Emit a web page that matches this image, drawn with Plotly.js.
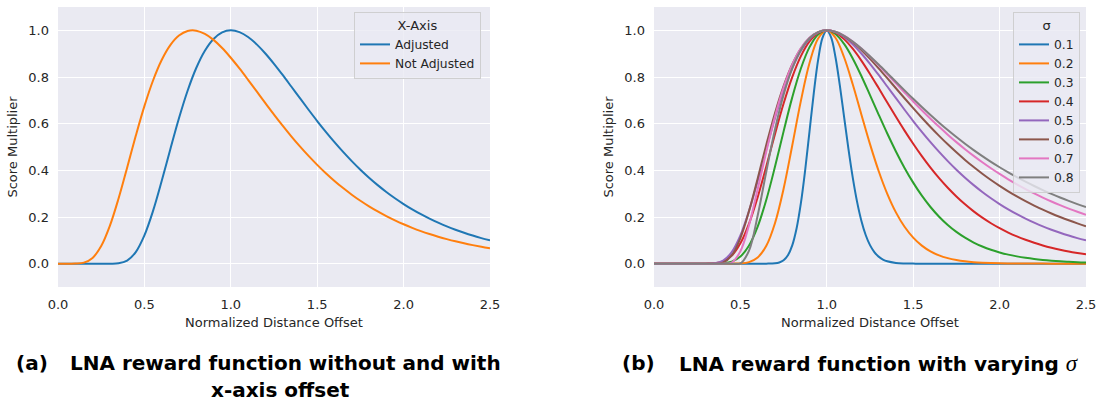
<!DOCTYPE html>
<html>
<head>
<meta charset="utf-8">
<script src="https://cdn.plot.ly/plotly-3.0.1.min.js"></script>
<style>
html,body{margin:0;padding:0;background:#ffffff;}
#chart{width:1097px;height:405px;}
</style>
</head>
<body>
<div id="chart"></div>
<script>
// ---------- data ----------
const X = [0, 0.05, 0.1, 0.15, 0.2, 0.25, 0.3, 0.35, 0.4, 0.45, 0.5, 0.55, 0.6, 0.65, 0.7, 0.75, 0.8, 0.85, 0.9, 0.95,
  1.0, 1.05, 1.1, 1.15, 1.2, 1.25, 1.3, 1.35, 1.4, 1.45, 1.5, 1.55, 1.6, 1.65, 1.7, 1.75, 1.8, 1.85, 1.9, 1.95,
  2.0, 2.05, 2.1, 2.15, 2.2, 2.25, 2.3, 2.35, 2.4, 2.45, 2.5];

// panel (a)
const ADJUSTED = [0, 0, 0, 0, 0, 0, 0, 0.0015, 0.0132, 0.0497, 0.1211, 0.2260, 0.3539, 0.4905, 0.6230, 0.7410, 0.8385, 0.9125, 0.9629, 0.9912,
  1.0, 0.9923, 0.9712, 0.9398, 0.9008, 0.8564, 0.8087, 0.7592, 0.7092, 0.6597, 0.6114, 0.5650, 0.5207, 0.4788, 0.4394, 0.4026, 0.3683, 0.3366, 0.3073, 0.2803,
  0.2555, 0.2328, 0.2120, 0.1930, 0.1757, 0.1598, 0.1454, 0.1323, 0.1204, 0.1096, 0.0997];
const NOT_ADJUSTED = [0, 0, 0.0002, 0.0044, 0.0248, 0.0756, 0.1620, 0.2782, 0.4115, 0.5479, 0.6752, 0.7851, 0.8728, 0.9367, 0.9775, 0.9972, 0.9986, 0.9848, 0.9590, 0.9241,
  0.8825, 0.8365, 0.7878, 0.7380, 0.6881, 0.6391, 0.5916, 0.5460, 0.5026, 0.4618, 0.4235, 0.3877, 0.3546, 0.3239, 0.2956, 0.2696, 0.2457, 0.2238, 0.2038, 0.1855,
  0.1688, 0.1536, 0.1397, 0.1271, 0.1157, 0.1053, 0.0958, 0.0872, 0.0794, 0.0723, 0.0658];

// panel (b)
const X_S01 = [0, 0.6, 0.65, 0.7, 0.725, 0.75, 0.775, 0.8, 0.825, 0.85, 0.875, 0.9, 0.925, 0.95, 0.975, 1.0, 1.025, 1.05, 1.075, 1.1,
  1.125, 1.15, 1.175, 1.2, 1.225, 1.25, 1.275, 1.3, 1.325, 1.35, 1.4, 1.45, 1.5, 1.6, 2.5];
const S01 = [0, 0, 0.0001, 0.0015, 0.0050, 0.0145, 0.0360, 0.0784, 0.1508, 0.2594, 0.4022, 0.5673, 0.7332, 0.8744, 0.9678, 1.0, 0.9694, 0.8857, 0.7660, 0.6295,
  0.4932, 0.3697, 0.2659, 0.1840, 0.1228, 0.0793, 0.0496, 0.0301, 0.0178, 0.0102, 0.0032, 0.0009, 0.0002, 0, 0];
const S02 = [0, 0, 0, 0, 0, 0, 0, 0, 0, 0.0001, 0.0012, 0.0068, 0.0267, 0.0769, 0.1735, 0.3213, 0.5062, 0.6976, 0.8598, 0.9649,
  1.0, 0.9683, 0.8847, 0.7687, 0.6396, 0.5124, 0.3973, 0.2994, 0.2199, 0.1581, 0.1114, 0.0772, 0.0527, 0.0355, 0.0237, 0.0156, 0.0102, 0.0066, 0.0043, 0.0027,
  0.0017, 0.0011, 0.0007, 0.0004, 0.0003, 0.0002, 0.0001, 0.0001, 0, 0, 0];
const S03 = [0, 0, 0, 0, 0, 0, 0, 0.0002, 0.0018, 0.0090, 0.0307, 0.0778, 0.1587, 0.2739, 0.4150, 0.5670, 0.7126, 0.8364, 0.9281, 0.9826,
  1.0, 0.9844, 0.9419, 0.8796, 0.8045, 0.7227, 0.6391, 0.5577, 0.4809, 0.4104, 0.3472, 0.2914, 0.2429, 0.2012, 0.1658, 0.1361, 0.1112, 0.0905, 0.0735, 0.0595,
  0.0481, 0.0387, 0.0312, 0.0251, 0.0201, 0.0161, 0.0129, 0.0103, 0.0083, 0.0066, 0.0053];
const S04 = [0, 0, 0, 0, 0, 0, 0.0001, 0.0016, 0.0097, 0.0347, 0.0872, 0.1717, 0.2850, 0.4173, 0.5552, 0.6861, 0.7996, 0.8895, 0.9525, 0.9886,
  1.0, 0.9899, 0.9623, 0.9211, 0.8703, 0.8132, 0.7526, 0.6907, 0.6295, 0.5702, 0.5137, 0.4607, 0.4115, 0.3663, 0.3251, 0.2878, 0.2542, 0.2240, 0.1971, 0.1732,
  0.1520, 0.1333, 0.1168, 0.1023, 0.0894, 0.0782, 0.0684, 0.0598, 0.0522, 0.0457, 0.0399];
const S05 = ADJUSTED;
const S06 = [0, 0, 0, 0, 0, 0, 0, 0, 0.0047, 0.0351, 0.1098, 0.2254, 0.3651, 0.5098, 0.6448, 0.7608, 0.8534, 0.9218, 0.9673, 0.9923,
  1.0, 0.9934, 0.9754, 0.9487, 0.9155, 0.8779, 0.8372, 0.7949, 0.7518, 0.7089, 0.6666, 0.6255, 0.5857, 0.5477, 0.5115, 0.4771, 0.4446, 0.4141, 0.3854, 0.3585,
  0.3334, 0.3100, 0.2882, 0.2678, 0.2489, 0.2313, 0.2150, 0.1999, 0.1858, 0.1727, 0.1606];
const S07 = [0, 0, 0, 0, 0, 0, 0, 0, 0, 0.0050, 0.0536, 0.1661, 0.3190, 0.4809, 0.6301, 0.7553, 0.8527, 0.9227, 0.9681, 0.9926,
  1.0, 0.9937, 0.9769, 0.9522, 0.9218, 0.8874, 0.8504, 0.8119, 0.7728, 0.7338, 0.6953, 0.6578, 0.6214, 0.5864, 0.5529, 0.5209, 0.4905, 0.4618, 0.4345, 0.4088,
  0.3845, 0.3616, 0.3401, 0.3199, 0.3010, 0.2832, 0.2664, 0.2508, 0.2361, 0.2223, 0.2094];
const S08 = [0, 0, 0, 0, 0, 0, 0, 0, 0, 0, 0.0011, 0.0561, 0.2064, 0.3953, 0.5751, 0.7242, 0.8372, 0.9162, 0.9660, 0.9923,
  1.0, 0.9936, 0.9767, 0.9522, 0.9224, 0.8890, 0.8534, 0.8167, 0.7796, 0.7427, 0.7064, 0.6711, 0.6370, 0.6041, 0.5726, 0.5425, 0.5139, 0.4866, 0.4609, 0.4364,
  0.4133, 0.3914, 0.3708, 0.3513, 0.3329, 0.3155, 0.2992, 0.2837, 0.2692, 0.2554, 0.2425];

const SIGMA_LABELS = ['0.1', '0.2', '0.3', '0.4', '0.5', '0.6', '0.7', '0.8'];
const SIGMA_X = [X_S01, X, X, X, X, X, X, X];
const SIGMA_Y = [S01, S02, S03, S04, S05, S06, S07, S08];
const SERIES_A = ['Adjusted', 'Not Adjusted'];

const X_TICKS = [0, 0.5, 1.0, 1.5, 2.0, 2.5];
const X_TICK_LABELS = ['0.0', '0.5', '1.0', '1.5', '2.0', '2.5'];
const Y_TICKS = [0, 0.2, 0.4, 0.6, 0.8, 1.0];
const Y_TICK_LABELS = ['0.0', '0.2', '0.4', '0.6', '0.8', '1.0'];

// ---------- style ----------
const COLORS = ['#1f77b4', '#ff7f0e', '#2ca02c', '#d62728', '#9467bd', '#8c564b', '#e377c2', '#7f7f7f'];
const FONT = 'DejaVu Sans, sans-serif';
const TXT = '#262626';
const W = 1097, H = 405;
const px = v => v / W;
const py = v => 1 - v / H;

const traces = [];
traces.push({x: X, y: ADJUSTED, name: SERIES_A[0], type: 'scatter', mode: 'lines',
  line: {color: COLORS[0], width: 2, shape: 'spline'}, xaxis: 'x', yaxis: 'y', legend: 'legend'});
traces.push({x: X, y: NOT_ADJUSTED, name: SERIES_A[1], type: 'scatter', mode: 'lines',
  line: {color: COLORS[1], width: 2, shape: 'spline'}, xaxis: 'x', yaxis: 'y', legend: 'legend'});
SIGMA_LABELS.forEach((lab, i) => {
  traces.push({x: SIGMA_X[i], y: SIGMA_Y[i], name: lab, type: 'scatter', mode: 'lines',
    line: {color: COLORS[i], width: 2, shape: 'spline'}, xaxis: 'x2', yaxis: 'y2', legend: 'legend2'});
});

const YDOM = [py(287), py(7)];
const axBase = {
  showgrid: true, gridcolor: '#ffffff', gridwidth: 1,
  zeroline: false, showline: false, ticks: '',
  tickfont: {family: FONT, size: 13, color: TXT},
  fixedrange: true
};
const xTitle = {text: 'Normalized Distance Offset', font: {family: FONT, size: 13, color: TXT}, standoff: 6};
const yTitle = {text: 'Score Multiplier', font: {family: FONT, size: 13, color: TXT}, standoff: 7};

const legBase = {
  xanchor: 'left', yanchor: 'top',
  bgcolor: 'rgba(234,234,242,0.8)', bordercolor: 'rgba(204,204,204,0.9)', borderwidth: 1,
  font: {family: FONT, size: 12.3, color: TXT}
};

const CAP = {family: 'DejaVu Sans, sans-serif', size: 20, color: '#000000', weight: 'bold'};

const layout = {
  width: W, height: H,
  margin: {l: 0, r: 0, t: 0, b: 0},
  paper_bgcolor: '#ffffff', plot_bgcolor: '#eaeaf2',
  showlegend: true,
  hovermode: false,
  xaxis: Object.assign({}, axBase, {domain: [px(58), px(490)], range: [0, 2.5], anchor: 'y',
    tickvals: X_TICKS, ticktext: X_TICK_LABELS, ticklabelstandoff: 8, title: xTitle}),
  yaxis: Object.assign({}, axBase, {domain: YDOM, range: [-0.1, 1.1], anchor: 'x',
    tickvals: Y_TICKS, ticktext: Y_TICK_LABELS, ticklabelstandoff: 8, title: yTitle}),
  xaxis2: Object.assign({}, axBase, {domain: [px(654), px(1086)], range: [0, 2.5], anchor: 'y2',
    tickvals: X_TICKS, ticktext: X_TICK_LABELS, ticklabelstandoff: 8, title: xTitle}),
  yaxis2: Object.assign({}, axBase, {domain: YDOM, range: [-0.1, 1.1], anchor: 'x2',
    tickvals: Y_TICKS, ticktext: Y_TICK_LABELS, ticklabelstandoff: 8, title: yTitle}),
  legend: Object.assign({}, legBase, {x: px(354), y: py(12),
    title: {text: 'X-Axis', side: 'top center', font: {family: FONT, size: 13, color: TXT}}}),
  legend2: Object.assign({}, legBase, {x: px(1013), y: py(12),
    title: {text: 'σ', side: 'top center', font: {family: FONT, size: 13, color: TXT}}}),
  annotations: [
    {text: '(a)', x: px(14), y: py(363), xref: 'paper', yref: 'paper', xanchor: 'left', yanchor: 'middle', showarrow: false, font: CAP},
    {text: 'LNA reward function without and with', x: px(68), y: py(363), xref: 'paper', yref: 'paper', xanchor: 'left', yanchor: 'middle', showarrow: false, font: CAP},
    {text: 'x-axis offset', x: px(280), y: py(390), xref: 'paper', yref: 'paper', xanchor: 'center', yanchor: 'middle', showarrow: false, font: CAP},
    {text: '(b)', x: px(620), y: py(363), xref: 'paper', yref: 'paper', xanchor: 'left', yanchor: 'middle', showarrow: false, font: CAP},
    {text: 'LNA reward function with varying <span style="font-family:\'Liberation Serif\',serif;font-weight:normal;font-style:italic;font-size:23px">σ</span>',
      x: px(677), y: py(363), xref: 'paper', yref: 'paper', xanchor: 'left', yanchor: 'middle', showarrow: false, font: CAP}
  ]
};

Plotly.newPlot('chart', traces, layout, {displayModeBar: false, staticPlot: true});
</script>
</body>
</html>
